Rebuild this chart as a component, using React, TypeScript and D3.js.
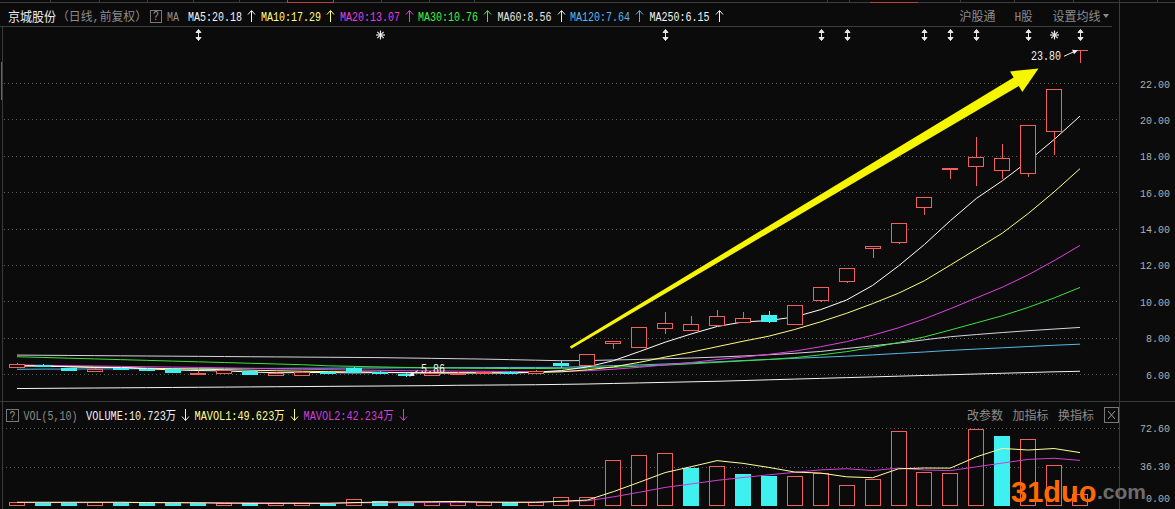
import React from "react";
import * as d3 from "d3";

// ---------- data ----------
const OPEN = [6.40, 6.50, 6.31, 6.18, 6.34, 6.30, 6.27, 6.02, 6.04, 6.18, 5.92, 5.95, 6.12, 6.35, 6.10, 6.02, 5.95, 6.02, 6.06, 6.12, 6.08, 6.59, 6.47, 7.69, 7.47, 8.55, 8.42, 8.69, 8.88, 9.24, 8.77, 10.07, 11.13, 12.91, 13.27, 15.16, 17.25, 17.43, 17.21, 17.03, 19.38, 23.80];
const HIGH = [6.60, 6.56, 6.34, 6.33, 6.40, 6.33, 6.29, 6.14, 6.23, 6.20, 6.06, 6.14, 6.16, 6.40, 6.14, 6.05, 6.06, 6.10, 6.14, 6.15, 6.20, 6.77, 7.10, 7.81, 8.59, 9.39, 9.19, 9.52, 9.39, 9.46, 9.79, 10.77, 11.84, 13.04, 14.30, 15.71, 17.31, 19.01, 18.64, 19.69, 21.65, 23.80];
const LOW = [6.38, 6.42, 6.18, 6.16, 6.25, 6.20, 6.07, 5.96, 6.02, 5.97, 5.90, 5.93, 6.02, 6.10, 6.03, 5.86, 5.93, 6.00, 6.04, 6.05, 6.06, 6.35, 6.45, 7.39, 7.47, 8.18, 8.40, 8.60, 8.79, 8.79, 8.75, 9.94, 11.00, 12.36, 13.15, 14.74, 16.72, 16.34, 16.70, 16.85, 18.04, 23.10];
const CLOSE = [6.55, 6.46, 6.20, 6.30, 6.28, 6.22, 6.09, 6.06, 6.20, 5.99, 6.03, 6.12, 6.05, 6.13, 6.08, 5.96, 6.04, 6.08, 6.12, 6.07, 6.18, 6.50, 7.10, 7.81, 8.57, 8.79, 8.73, 9.17, 9.06, 8.93, 9.79, 10.77, 11.81, 13.04, 14.28, 15.71, 17.31, 17.91, 17.88, 19.69, 21.65, 23.80];

const MA5 = [6.45, 6.45, 6.40, 6.36, 6.36, 6.29, 6.22, 6.19, 6.17, 6.11, 6.07, 6.08, 6.08, 6.06, 6.08, 6.07, 6.05, 6.06, 6.06, 6.05, 6.10, 6.19, 6.39, 6.73, 7.23, 7.75, 8.20, 8.61, 8.86, 8.94, 9.14, 9.54, 10.07, 10.87, 11.94, 13.12, 14.43, 15.65, 16.62, 17.70, 18.89, 20.18];
const MA10 = [6.45, 6.43, 6.40, 6.38, 6.35, 6.32, 6.29, 6.26, 6.24, 6.21, 6.18, 6.15, 6.13, 6.12, 6.10, 6.07, 6.07, 6.07, 6.06, 6.07, 6.08, 6.12, 6.23, 6.39, 6.64, 6.93, 7.20, 7.50, 7.80, 8.08, 8.45, 8.87, 9.34, 9.87, 10.44, 11.13, 11.99, 12.86, 13.74, 14.82, 16.01, 17.29];
const MA20 = [6.50, 6.48, 6.46, 6.44, 6.42, 6.40, 6.38, 6.36, 6.34, 6.31, 6.28, 6.26, 6.24, 6.22, 6.20, 6.18, 6.17, 6.16, 6.15, 6.14, 6.13, 6.14, 6.18, 6.26, 6.37, 6.50, 6.63, 6.79, 6.93, 7.08, 7.26, 7.50, 7.78, 8.13, 8.54, 9.03, 9.59, 10.18, 10.77, 11.45, 12.23, 13.07];
const MA30 = [6.95, 6.91, 6.87, 6.83, 6.79, 6.75, 6.71, 6.67, 6.63, 6.59, 6.55, 6.51, 6.45, 6.42, 6.39, 6.36, 6.34, 6.32, 6.31, 6.30, 6.30, 6.31, 6.33, 6.37, 6.43, 6.49, 6.56, 6.64, 6.72, 6.80, 6.90, 7.05, 7.23, 7.46, 7.73, 8.04, 8.42, 8.81, 9.20, 9.66, 10.18, 10.76];
const MA60 = [7.04, 7.03, 7.02, 7.01, 7.00, 6.99, 6.98, 6.97, 6.96, 6.95, 6.94, 6.93, 6.92, 6.91, 6.90, 6.88, 6.86, 6.84, 6.82, 6.79, 6.76, 6.73, 6.74, 6.77, 6.80, 6.84, 6.88, 6.93, 6.99, 7.06, 7.14, 7.24, 7.40, 7.55, 7.70, 7.88, 8.05, 8.17, 8.28, 8.38, 8.47, 8.56];
const MA120 = [6.26, 6.27, 6.27, 6.28, 6.28, 6.29, 6.29, 6.30, 6.30, 6.31, 6.31, 6.32, 6.32, 6.33, 6.33, 6.34, 6.34, 6.35, 6.35, 6.36, 6.36, 6.37, 6.41, 6.46, 6.50, 6.55, 6.61, 6.67, 6.74, 6.80, 6.86, 6.92, 6.98, 7.05, 7.13, 7.21, 7.30, 7.37, 7.44, 7.51, 7.58, 7.64];
const MA250 = [5.20, 5.21, 5.22, 5.23, 5.24, 5.25, 5.26, 5.27, 5.28, 5.29, 5.30, 5.31, 5.32, 5.33, 5.34, 5.35, 5.36, 5.38, 5.39, 5.40, 5.41, 5.43, 5.45, 5.48, 5.51, 5.54, 5.57, 5.60, 5.64, 5.68, 5.72, 5.76, 5.80, 5.84, 5.88, 5.92, 5.96, 6.00, 6.04, 6.08, 6.12, 6.15];

const VOLUME = [3.1, 2.2, 2.2, 3.1, 2.4, 1.6, 1.6, 1.6, 1.6, 1.6, 1.6, 1.6, 1.3, 5.4, 3.5, 3.1, 2.4, 2.4, 2.4, 2.4, 3.1, 7.6, 7.8, 42.2, 47.0, 48.9, 35.3, 36.6, 29.3, 27.7, 27.1, 30.5, 18.8, 25.0, 70.0, 30.8, 29.9, 72.0, 65.0, 62.5, 37.9, 10.723];
const MAVOL1 = [2.6, 2.6, 2.6, 2.6, 2.6, 2.3, 2.18, 2.06, 1.76, 1.6, 1.6, 1.6, 1.54, 2.3, 2.68, 2.98, 3.14, 3.36, 2.76, 2.54, 2.54, 3.58, 4.66, 12.62, 21.54, 30.7, 36.24, 42.0, 39.42, 35.56, 31.2, 30.24, 26.68, 25.82, 34.28, 35.02, 34.9, 45.54, 53.54, 52.04, 53.46, 49.623];
const MAVOL2 = [2.3, 2.3, 2.3, 2.3, 2.3, 2.3, 2.2, 2.2, 2.1, 2.1, 1.95, 1.89, 1.8, 2.03, 2.14, 2.29, 2.37, 2.45, 2.53, 2.61, 2.76, 3.36, 4.01, 7.69, 12.04, 16.62, 19.91, 23.33, 26.02, 28.55, 30.95, 33.24, 34.34, 32.62, 34.92, 33.11, 32.57, 36.11, 39.68, 43.16, 44.24, 42.234];

const PRICE_TICKS = [6, 8, 10, 12, 14, 16, 18, 20, 22];
const VOL_TICKS = [0, 36.3, 72.6];

const MARKER_IDX = [7, 14, 25, 31, 32, 35, 36, 37, 39, 40, 41];
const MARKER_KIND = ["arrow", "star", "arrow", "arrow", "arrow", "arrow", "arrow", "arrow", "arrow", "star", "arrow"];

const MA_LEGEND = [
  { label: "MA5:20.18", color: "#f4f4f4" },
  { label: "MA10:17.29", color: "#ffff80" },
  { label: "MA20:13.07", color: "#e040e0" },
  { label: "MA30:10.76", color: "#40f040" },
  { label: "MA60:8.56", color: "#e6e6e6" },
  { label: "MA120:7.64", color: "#55b8e8" },
  { label: "MA250:6.15", color: "#f4f4f4" },
];
const MA_LEGEND_X = [188, 261, 340, 418, 497.5, 570, 649.5];

// annotation (data coords): trend arrow, extreme labels
const TREND_FROM = [21.35, 7.45];
const TREND_TO = [39.4, 22.8];
const LOW_IDX = 15;
const HIGH_IDX = 41;

// ---------- helpers ----------
const RED = "#f0605c";
const CYAN = "#3ef0f0";
const BG = "#0b0b0b";
const LINE = "#3c3c3c";
const AXT = "#b0b0b0";
const GRAYT = "#8c8c8c";

const tw = (s: string) => Array.from(s).reduce((a, ch) => a + (ch.charCodeAt(0) > 255 ? 12 : 6), 0);

function T({ x, y, s, fill, anchor = "start", size = 12 }: any) {
  return (
    <text
      x={x}
      y={y}
      fill={fill}
      fontSize={size}
      fontFamily="'Liberation Mono','Noto Sans CJK SC',monospace"
      textLength={tw(s)}
      lengthAdjust="spacingAndGlyphs"
      textAnchor={anchor}
    >
      {s}
    </text>
  );
}

function VArrow({ x, cy, up, color }: any) {
  const top = cy - 6;
  const bot = cy + 6;
  const xx = Math.round(x) + 0.5;
  return up ? (
    <g stroke={color} fill="none" strokeWidth={1}>
      <line x1={xx} y1={top + 1} x2={xx} y2={bot} />
      <path d={`M${xx - 3.5},${top + 4.5} L${xx},${top + 0.5} L${xx + 3.5},${top + 4.5}`} />
    </g>
  ) : (
    <g stroke={color} fill="none" strokeWidth={1}>
      <line x1={xx} y1={top} x2={xx} y2={bot - 1} />
      <path d={`M${xx - 3.5},${bot - 4.5} L${xx},${bot - 0.5} L${xx + 3.5},${bot - 4.5}`} />
    </g>
  );
}

export default function App() {
  const N = CLOSE.length;
  const x = d3.scaleLinear().domain([0, N - 1]).range([17, 1080]);
  const y = d3.scaleLinear().domain([6, 22]).range([374, 83]);
  const yv = d3.scaleLinear().domain([0, 72.6]).range([505, 428.3]);
  const half = 8;

  const maLine = d3
    .line<number>()
    .x((_, i) => x(i))
    .y((d) => y(d));
  const volLine = d3
    .line<number>()
    .x((_, i) => x(i))
    .y((d) => yv(d));

  const MAS = [MA250, MA120, MA60, MA30, MA20, MA10, MA5];
  const MA_COL = ["#f4f4f4", "#55b8e8", "#d8d2e0", "#40e040", "#e040e0", "#ffff80", "#ffffff"];

  // trend arrow polygon
  const p0 = [x(TREND_FROM[0]), y(TREND_FROM[1])];
  const p1 = [x(TREND_TO[0]), y(TREND_TO[1])];
  const dx = p1[0] - p0[0];
  const dy = p1[1] - p0[1];
  const L = Math.hypot(dx, dy);
  const u = [dx / L, dy / L];
  const n = [-u[1], u[0]];
  const headLen = 26;
  const pb = [p1[0] - u[0] * headLen, p1[1] - u[1] * headLen];
  const w0 = 1.3;
  const w1 = 5;
  const wh = 12;
  const P = (p: number[], k: number) => `${p[0] + n[0] * k},${p[1] + n[1] * k}`;
  const trendPoly = [P(p0, w0), P(pb, w1), P(pb, wh), `${p1[0]},${p1[1]}`, P(pb, -wh), P(pb, -w1), P(p0, -w0)].join(" ");

  const lowX = x(LOW_IDX);
  const lowY = y(LOW[LOW_IDX]);
  const highX = x(HIGH_IDX);
  const highY = y(HIGH[HIGH_IDX]);

  const topSeps = [50, 99, 147, 193, 239, 381, 429, 474, 827, 849, 960, 1014, 1073, 1157];

  // axis label helper: natural width kept within the picture
  const axisLabel = (key: any, yy: number, s: string) => (
    <text
      key={key}
      x={1170}
      y={yy}
      fill={AXT}
      fontSize={11}
      fontFamily="'Liberation Mono',monospace"
      textLength={tw(s)}
      lengthAdjust="spacingAndGlyphs"
      textAnchor="end"
    >
      {s}
    </text>
  );

  return (
    <svg
      width={1175}
      height={509}
      style={{ position: "fixed", left: 0, top: 0, background: BG, display: "block" }}
    >
      <rect x={0} y={0} width={1175} height={509} fill={BG} />

      {/* frame */}
      <g stroke={LINE} strokeWidth={1} shapeRendering="crispEdges">
        <line x1={0} y1={2.5} x2={1175} y2={2.5} />
        {topSeps.map((s) => (
          <line key={s} x1={s + 0.5} y1={0} x2={s + 0.5} y2={3} />
        ))}
        <line x1={0} y1={26.5} x2={1112} y2={26.5} />
        <line x1={0} y1={401.5} x2={1175} y2={401.5} />
        <line x1={1119.5} y1={0} x2={1119.5} y2={509} />
        <line x1={2.5} y1={27} x2={2.5} y2={509} />
      </g>
      <g stroke="#c04040" strokeWidth={1} shapeRendering="crispEdges">
        <line x1={287} y1={2.5} x2={334} y2={2.5} />
        <line x1={287.5} y1={0} x2={287.5} y2={3} />
        <line x1={333.5} y1={0} x2={333.5} y2={3} />
        <line x1={870} y1={2.5} x2={918} y2={2.5} />
        <line x1={1.5} y1={62} x2={1.5} y2={100} />
      </g>

      {/* header */}
      <T x={8} y={21} s="京城股份" fill="#ececec" size={13} />
      <T x={57} y={21} s="（日线,前复权）" fill={GRAYT} />
      <rect x={150.5} y={10.5} width={11} height={12} fill="none" stroke="#777" />
      <T x={153} y={20} s="?" fill="#9a9a9a" />
      <T x={167} y={21} s="MA" fill={GRAYT} />
      {MA_LEGEND.map((m, k) => (
        <g key={m.label}>
          <T x={MA_LEGEND_X[k]} y={21} s={m.label} fill={m.color} />
          <VArrow x={MA_LEGEND_X[k] + tw(m.label) + 9} cy={16} up color={m.color} />
        </g>
      ))}
      <T x={959.5} y={21} s="沪股通" fill={GRAYT} />
      <T x={1014.5} y={21} s="H股" fill={GRAYT} />
      <T x={1052.5} y={21} s="设置均线" fill={GRAYT} />
      <path d="M1103,14 L1109,14 L1106,18 Z" fill={GRAYT} />

      {/* markers */}
      {MARKER_IDX.map((i, k) => {
        const cx = Math.round(x(i)) + 0.5;
        const cy = 35;
        return MARKER_KIND[k] === "arrow" ? (
          <g key={i} stroke="#e8e8e8" fill="#e8e8e8" strokeWidth={1}>
            <line x1={cx} y1={cy - 4} x2={cx} y2={cy + 4} />
            <path d={`M${cx - 2.5},${cy - 2.5} L${cx},${cy - 5.5} L${cx + 2.5},${cy - 2.5} Z`} />
            <path d={`M${cx - 2.5},${cy + 2.5} L${cx},${cy + 5.5} L${cx + 2.5},${cy + 2.5} Z`} />
          </g>
        ) : (
          <g key={i} stroke="#e8e8e8" strokeWidth={1.2}>
            <line x1={cx - 4.5} y1={cy} x2={cx + 4.5} y2={cy} />
            <line x1={cx} y1={cy - 4.5} x2={cx} y2={cy + 4.5} />
            <line x1={cx - 3.2} y1={cy - 3.2} x2={cx + 3.2} y2={cy + 3.2} />
            <line x1={cx - 3.2} y1={cy + 3.2} x2={cx + 3.2} y2={cy - 3.2} />
          </g>
        );
      })}

      {/* price grid */}
      <g stroke="#5a5a5a" strokeWidth={1} strokeDasharray="1,3" shapeRendering="crispEdges">
        {PRICE_TICKS.map((t) => (
          <line key={t} x1={4} x2={1119} y1={Math.round(y(t)) + 0.5} y2={Math.round(y(t)) + 0.5} />
        ))}
      </g>
      {PRICE_TICKS.map((t) => axisLabel(t, y(t) + 4.5, t.toFixed(2)))}

      {/* MA lines */}
      {MAS.map((arr, k) => (
        <path key={k} d={maLine(arr) || ""} fill="none" stroke={MA_COL[k]} strokeWidth={1} />
      ))}

      {/* candles */}
      {CLOSE.map((c, i) => {
        const o = OPEN[i];
        const up = c >= o;
        const col = up ? RED : CYAN;
        const cx = Math.round(x(i)) + 0.5;
        const left = Math.round(x(i) - half) + 0.5;
        const yTop = Math.round(y(Math.max(o, c)));
        const yBot = Math.round(y(Math.min(o, c)));
        const yH = Math.round(y(HIGH[i]));
        const yL = Math.round(y(LOW[i]));
        const h = yBot - yTop;
        return (
          <g key={i} shapeRendering="crispEdges">
            {yH < yTop && <line x1={cx} x2={cx} y1={yH} y2={yTop} stroke={col} />}
            {yL > yBot && <line x1={cx} x2={cx} y1={yBot + 1} y2={yL} stroke={col} />}
            {h <= 0 ? (
              <line x1={left} x2={left + 15} y1={yTop + 0.5} y2={yTop + 0.5} stroke={col} />
            ) : up ? (
              <rect x={left} y={yTop + 0.5} width={15} height={h} fill={BG} stroke={col} />
            ) : (
              <rect x={left - 0.5} y={yTop} width={16} height={h + 1} fill={col} />
            )}
          </g>
        );
      })}

      {/* extreme labels */}
      <g fill="#f0f0f0" stroke="#f0f0f0">
        <line x1={lowX + 12} y1={lowY - 6} x2={lowX + 4} y2={lowY - 1} strokeWidth={1} />
        <path d={`M${lowX + 3},${lowY} L${lowX + 9},${lowY - 1} L${lowX + 6},${lowY - 5} Z`} stroke="none" />
        <line x1={highX - 16} y1={highY + 6} x2={highX - 4} y2={highY + 0.5} strokeWidth={1} />
        <path d={`M${highX - 2},${highY} L${highX - 8},${highY - 0.5} L${highX - 6},${highY + 4} Z`} stroke="none" />
      </g>
      <T x={lowX + 15} y={lowY - 4} s={LOW[LOW_IDX].toFixed(2)} fill="#f0f0f0" />
      <T x={highX - 19} y={highY + 10} s={HIGH[HIGH_IDX].toFixed(2)} fill="#f0f0f0" anchor="end" />

      {/* trend arrow */}
      <polygon points={trendPoly} fill="#f6f600" />

      {/* volume panel */}
      <rect x={6.5} y={409.5} width={12} height={12} fill="none" stroke="#777" />
      <T x={9.5} y={420} s="?" fill="#9a9a9a" />
      <T x={23.5} y={420} s="VOL(5,10)" fill={GRAYT} />
      <T x={86} y={420} s="VOLUME:10.723万" fill="#f0f0f0" />
      <VArrow x={185} cy={415} up={false} color="#f0f0f0" />
      <T x={194.5} y={420} s="MAVOL1:49.623万" fill="#ffff90" />
      <VArrow x={294} cy={415} up={false} color="#ffff90" />
      <T x={303.5} y={420} s="MAVOL2:42.234万" fill="#d040d0" />
      <VArrow x={403} cy={415} up={false} color="#d040d0" />
      <T x={967} y={420} s="改参数" fill={GRAYT} />
      <T x={1012.5} y={420} s="加指标" fill={GRAYT} />
      <T x={1058} y={420} s="换指标" fill={GRAYT} />
      <rect x={1104.5} y={407.5} width={14} height={15} fill="none" stroke="#777" />
      <g stroke="#999" strokeWidth={1}>
        <line x1={1108} y1={411} x2={1115} y2={419} />
        <line x1={1115} y1={411} x2={1108} y2={419} />
      </g>

      <g stroke="#5a5a5a" strokeWidth={1} strokeDasharray="1,3" shapeRendering="crispEdges">
        {VOL_TICKS.filter((t) => t > 0).map((t) => (
          <line key={t} x1={6} x2={1119} y1={Math.round(yv(t)) + 0.5} y2={Math.round(yv(t)) + 0.5} />
        ))}
      </g>
      {VOL_TICKS.map((t) => axisLabel(t, t === 0 ? yv(t) - 3 : yv(t) + 3.5, t.toFixed(2)))}

      {VOLUME.map((v, i) => {
        const up = i === 0 ? true : CLOSE[i] >= CLOSE[i - 1];
        const left = Math.round(x(i) - half) + 0.5;
        const yt = Math.round(yv(v));
        const y0 = Math.round(yv(0));
        const h = Math.max(1, y0 - yt);
        return up ? (
          <rect key={i} x={left} y={yt + 0.5} width={15} height={h} fill={BG} stroke={RED} shapeRendering="crispEdges" />
        ) : (
          <rect key={i} x={left - 0.5} y={yt} width={16} height={h + 1} fill={CYAN} shapeRendering="crispEdges" />
        );
      })}
      <path d={volLine(MAVOL2) || ""} fill="none" stroke="#d040d0" strokeWidth={1} />
      <path d={volLine(MAVOL1) || ""} fill="none" stroke="#ffffa0" strokeWidth={1} />

      {/* watermark */}
      <text x={1011} y={502} fill="#ff6a00" fontSize={29} fontWeight="bold" fontFamily="'Liberation Sans',Arial,sans-serif">
        31duo
      </text>
      <text x={1097} y={499} fill="#6c6c6c" fontSize={21} fontWeight="bold" fontFamily="'Liberation Sans',Arial,sans-serif">
        .com
      </text>
    </svg>
  );
}
